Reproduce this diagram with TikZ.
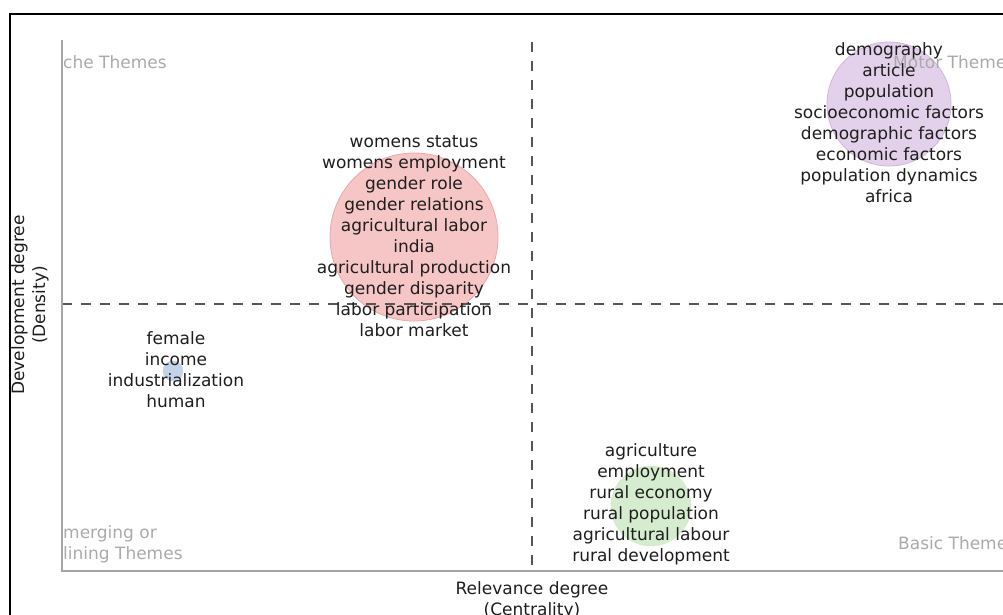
\documentclass[tikz,border=0pt]{standalone}
\usepackage{fontspec}
\setmainfont{DejaVu Sans}
\definecolor{axisgray}{RGB}{165,165,165}
\definecolor{dashgray}{RGB}{85,85,85}
\definecolor{labelgray}{RGB}{170,170,170}
\definecolor{textdark}{RGB}{30,30,30}
\definecolor{redfill}{RGB}{245,188,188}
\definecolor{reddraw}{RGB}{238,165,165}
\definecolor{purplefill}{RGB}{222,200,230}
\definecolor{purpledraw}{RGB}{210,180,222}
\definecolor{bluefill}{RGB}{184,205,230}
\definecolor{greenfill}{RGB}{206,233,197}
\begin{document}
\begin{tikzpicture}[
        x=1pt, y=-1pt,
        every node/.style={font=\fontsize{17}{21}\selectfont, text=textdark, align=center},
        redn/.style={circle, fill=redfill, draw=reddraw, thick, fill opacity=0.85, minimum size=168pt, inner sep=0pt},
        purplen/.style={circle, fill=purplefill, draw=purpledraw, thick, fill opacity=0.85, minimum size=124pt, inner sep=0pt},
        bluen/.style={circle, fill=bluefill, draw=bluefill, fill opacity=0.85, minimum size=20pt, inner sep=0pt},
        greenn/.style={circle, fill=greenfill, draw=greenfill, fill opacity=0.85, minimum size=80pt, inner sep=0pt},
        themen/.style={text=labelgray, align=left, anchor=west, inner sep=0pt},
        axisline/.style={draw=axisgray, line width=1.6pt},
        splitline/.style={draw=dashgray, line width=1.4pt, dash pattern=on 10pt off 9pt},
    ]
    \useasboundingbox (0,0) rectangle (1003,614);
    % frame
    \draw[line width=1.8pt] (10,14) rectangle (1030,640);
    % clusters
    \node[redn](womens) at (414,237) {};
    \node[purplen](demography) at (889,104) {};
    \node[bluen](female) at (173,371) {};
    \node[greenn](agriculture) at (651,506) {};
    % quadrant names
    \node[themen] (niche) at (63,62) {che Themes};
    \node[themen] (motor) at (893,62) {Motor Themes};
    \node[themen] (emerging) at (63,544) {merging or\\lining Themes};
    \node[themen] (basic) at (898,543) {Basic Themes};
    % axes
    \coordinate (origin) at (62,571);
    \coordinate (ytop) at (62,40);
    \coordinate (xend) at (1010,571);
    \coordinate (vtop) at (532,42);
    \coordinate (vbot) at (532,571);
    \coordinate (hleft) at (62,304);
    \coordinate (hright) at (1010,304);
    \draw[splitline] (vtop) -- (vbot);
    \draw[splitline] (hleft) -- (hright);
    \draw[axisline] (ytop) -- (origin) -- (xend);
    % cluster words
    \node (womenswords) at (414,236) {womens status\\womens employment\\gender role\\gender relations\\agricultural labor\\india\\agricultural production\\gender disparity\\labor participation\\labor market};
    \node (demographywords) at (889,123) {demography\\article\\population\\socioeconomic factors\\demographic factors\\economic factors\\population dynamics\\africa};
    \node (femalewords) at (176,370) {female\\income\\industrialization\\human};
    \node (agriculturewords) at (651,504) {agriculture\\employment\\rural economy\\rural population\\agricultural labour\\rural development};
    % axis titles
    \node (xtitle) at (532,600) {Relevance degree\\(Centrality)};
    \node[rotate=90] (ytitle) at (30,305) {Development degree\\(Density)};
\end{tikzpicture}
\end{document}
